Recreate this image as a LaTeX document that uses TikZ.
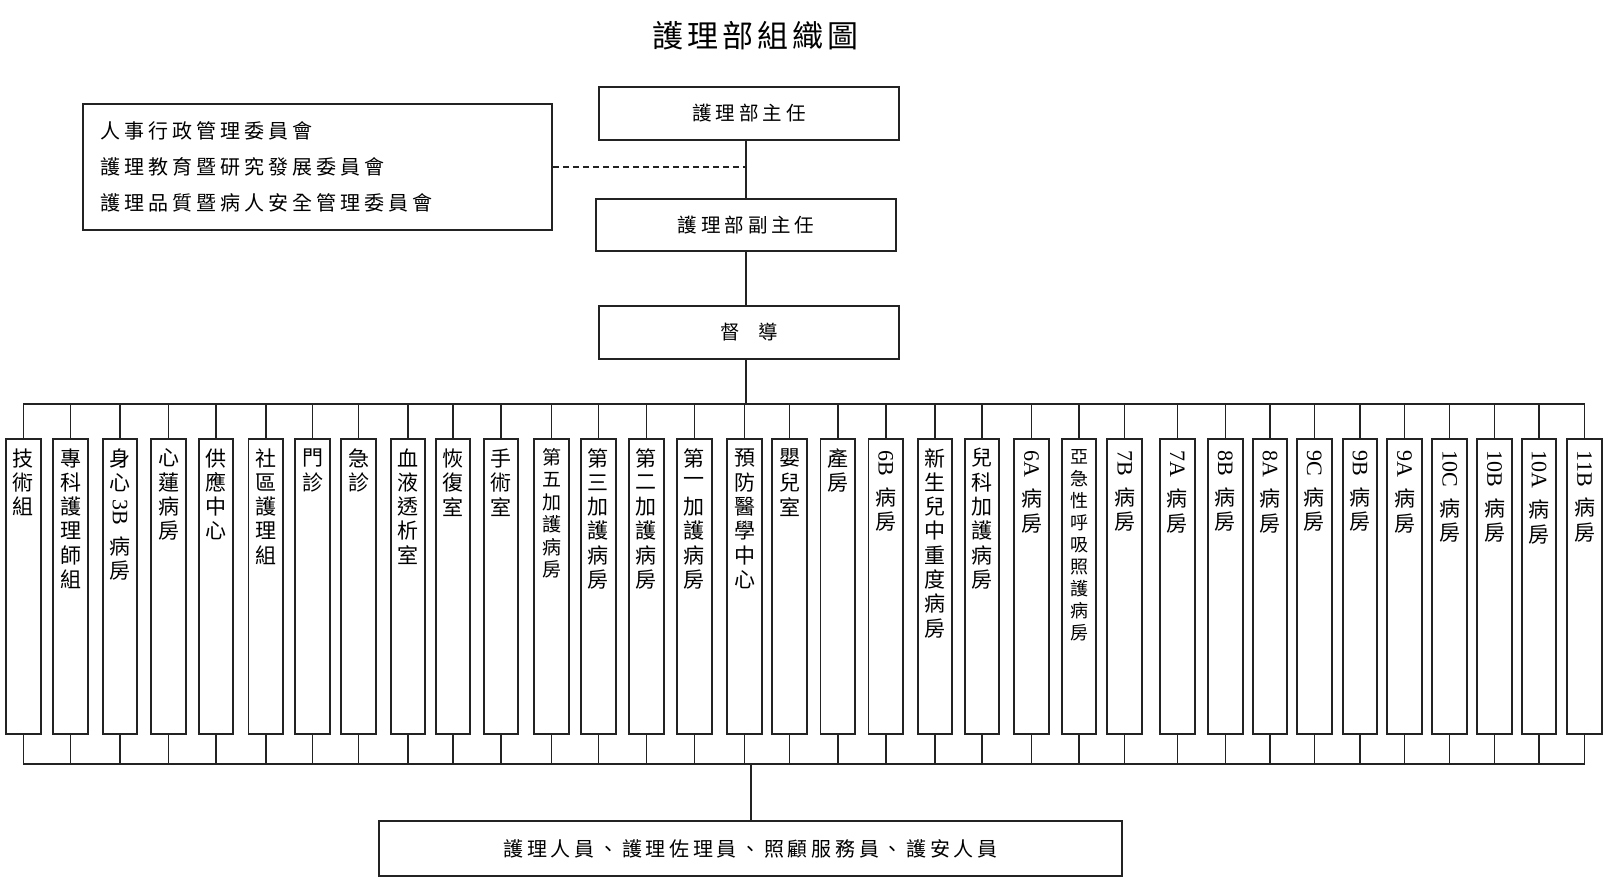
\documentclass[tikz,border=0pt]{standalone}
\usepackage{fontspec}
\usepackage{graphicx}
\setmainfont{Liberation Serif}
\newfontfamily\cjk{Noto Sans CJK TC}
\definecolor{linec}{RGB}{35,35,35}
\newlength\bw \setlength\bw{34.7pt}
\newlength\bh \setlength\bh{295pt}
\newlength\pitch \setlength\pitch{24.3pt}
\makeatletter
\newcommand\spc[2]{\@tfor\spcch:=#2\do{\spcch\kern#1}\unkern}
\newcommand\C[1]{\hbox to\bw{\hss\vbox to\pitch{\vss\hbox{#1}\vss}\hss}}
\newcommand\vchars[1]{\@tfor\vch:=#1\do{\C{\vch}}}
\makeatother
\newcommand\Lt[1]{\kern5pt\hbox to\bw{\hss\rotatebox{-90}{\rmfamily\fontsize{22}{24}\selectfont #1}\hss}\kern9pt}
\newcommand\vlab[1]{\vbox to\bh{\offinterlineskip\kern7pt #1\vfil}}
\begin{document}
\begin{tikzpicture}[x=1pt,y=-1pt,
  ln/.style={line width=1.4pt, draw=linec},
  hrect/.style={draw=linec, line width=1.8pt, inner sep=0pt, font=\cjk\fontsize{19.5}{24}\selectfont},
  vrect/.style={draw=linec, line width=1.8pt, inner sep=0pt, anchor=north, font=\cjk\fontsize{21}{24}\selectfont},
]
\fill[white] (0,0) rectangle (1613,895);
\useasboundingbox (0,0) rectangle (1613,895);

\node[font=\cjk\fontsize{31}{36}\selectfont] (title) at (755,36) {\spc{4pt}{護理部組織圖}};

\node[hrect, minimum width=300pt, minimum height=53pt] (zr) at (749,113.5) {\spc{4pt}{護理部主任}};
\node[hrect, minimum width=300pt, minimum height=52pt] (fzr) at (746,225) {\spc{4pt}{護理部副主任}};
\node[hrect, minimum width=300pt, minimum height=53pt] (dd) at (749,332.5) {督\kern18pt 導};

\node[draw=linec, line width=1.8pt, text width=435pt, inner xsep=17pt, inner ysep=0pt,
      minimum height=126pt, align=left, font=\cjk\fontsize{20}{36}\selectfont] (cm) at (317.5,167)
  {\spc{4pt}{人事行政管理委員會}\\ \spc{4pt}{護理教育暨研究發展委員會}\\ \spc{4pt}{護理品質暨病人安全管理委員會}};

\coordinate (spine) at (746,0);
\coordinate (spine2) at (751,0);
\coordinate (tbus) at (0,404);
\coordinate (bbus) at (0,764);

% unit boxes
\node[vrect] (b1) at (23.3,438) {\vlab{\vchars{技術組}}};
\node[vrect] (b2) at (70.7,438) {\vlab{\vchars{專科護理師組}}};
\node[vrect] (b3) at (120,438) {\vlab{\vchars{身心}\Lt{3B}\vchars{病房}}};
\node[vrect] (b4) at (168.5,438) {\vlab{\vchars{心蓮病房}}};
\node[vrect] (b5) at (216,438) {\vlab{\vchars{供應中心}}};
\node[vrect] (b6) at (265.8,438) {\vlab{\vchars{社區護理組}}};
\node[vrect] (b7) at (312.7,438) {\vlab{\vchars{門診}}};
\node[vrect] (b8) at (358.5,438) {\vlab{\vchars{急診}}};
\node[vrect] (b9) at (408,438) {\vlab{\vchars{血液透析室}}};
\node[vrect] (b10) at (453,438) {\vlab{\vchars{恢復室}}};
\node[vrect] (b11) at (501,438) {\vlab{\vchars{手術室}}};
\node[vrect, font=\cjk\fontsize{19}{22}\selectfont] (b12) at (551.5,438) {\setlength\pitch{22.5pt}\vlab{\vchars{第五加護病房}}};
\node[vrect] (b13) at (598.3,438) {\vlab{\vchars{第三加護病房}}};
\node[vrect] (b14) at (646.3,438) {\vlab{\vchars{第二加護病房}}};
\node[vrect] (b15) at (694.3,438) {\vlab{\vchars{第一加護病房}}};
\node[vrect] (b16) at (744.5,438) {\vlab{\vchars{預防醫學中心}}};
\node[vrect] (b17) at (789.7,438) {\vlab{\vchars{嬰兒室}}};
\node[vrect] (b18) at (837.8,438) {\vlab{\vchars{產房}}};
\node[vrect] (b19) at (885.8,438) {\vlab{\Lt{6B}\vchars{病房}}};
\node[vrect] (b20) at (935,438) {\vlab{\vchars{新生兒中重度病房}}};
\node[vrect] (b21) at (982,438) {\vlab{\vchars{兒科加護病房}}};
\node[vrect] (b22) at (1031.5,438) {\vlab{\Lt{6A}\vchars{病房}}};
\node[vrect, font=\cjk\fontsize{18}{22}\selectfont] (b23) at (1079,438) {\setlength\pitch{22pt}\vlab{\vchars{亞急性呼吸照護病房}}};
\node[vrect] (b24) at (1124.7,438) {\vlab{\Lt{7B}\vchars{病房}}};
\node[vrect] (b25) at (1177.3,438) {\vlab{\Lt{7A}\vchars{病房}}};
\node[vrect] (b26) at (1225.3,438) {\vlab{\Lt{8B}\vchars{病房}}};
\node[vrect] (b27) at (1270,438) {\vlab{\Lt{8A}\vchars{病房}}};
\node[vrect] (b28) at (1314.3,438) {\vlab{\Lt{9C}\vchars{病房}}};
\node[vrect] (b29) at (1360,438) {\vlab{\Lt{9B}\vchars{病房}}};
\node[vrect] (b30) at (1404.5,438) {\vlab{\Lt{9A}\vchars{病房}}};
\node[vrect] (b31) at (1449.7,438) {\vlab{\Lt{10C}\vchars{病房}}};
\node[vrect] (b32) at (1494.5,438) {\vlab{\Lt{10B}\vchars{病房}}};
\node[vrect] (b33) at (1539,438) {\vlab{\Lt{10A}\vchars{病房}}};
\node[vrect] (b34) at (1584.7,438) {\vlab{\Lt{11B}\vchars{病房}}};

\node[hrect, minimum width=743pt, minimum height=55pt, font=\cjk\fontsize{20}{24}\selectfont] (staff) at (750.5,848.5)
  {\spc{3.7pt}{護理人員、護理佐理員、照顧服務員、護安人員}};

% connectors
\draw[ln] (zr.south -| spine) -- (fzr.north -| spine);
\draw[ln] (fzr.south -| spine) -- (dd.north -| spine);
\draw[ln] (dd.south -| spine) -- (spine |- tbus);
\draw[ln, dash pattern=on 6pt off 4pt] (cm.east) -- (cm.east -| spine);
\draw[ln, line cap=rect] (b1.north |- tbus) -- (b34.north |- tbus);
\draw[ln, line cap=rect] (b1.south |- bbus) -- (b34.south |- bbus);
\foreach \i in {1,...,34} {
  \draw[ln] (b\i.north) -- (b\i.north |- tbus);
  \draw[ln] (b\i.south) -- (b\i.south |- bbus);
}
\draw[ln] (spine2 |- bbus) -- (staff.north -| spine2);
\end{tikzpicture}
\end{document}
